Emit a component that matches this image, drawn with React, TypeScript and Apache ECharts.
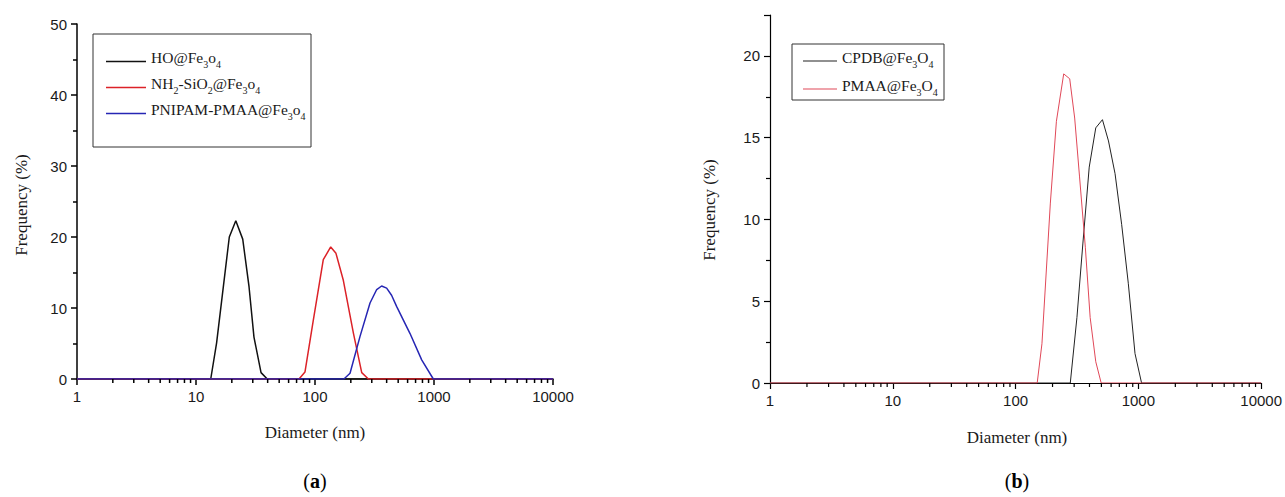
import { useEffect, useRef } from 'react';
import * as echarts from 'echarts';

// ---------- Data ----------
// Panel (a)
const hoDiam = [1, 13.3, 14.9, 19.05, 21.6, 24.7, 27.9, 30.7, 35.2, 39.7, 10000];
const hoFreq = [0, 0, 5.1, 20, 22.3, 19.7, 13, 5.9, 0.9, 0, 0];

const nhDiam = [1, 73.4, 82.4, 96.8, 117.4, 135.5, 150, 173, 210, 247, 281, 10000];
const nhFreq = [0, 0, 1.0, 8.3, 16.8, 18.6, 17.7, 13.9, 6.5, 0.9, 0, 0];

const pnDiam = [1, 175, 197, 239, 290, 330, 363, 400, 440, 486, 629, 788, 987, 10000];
const pnFreq = [0, 0, 0.8, 6, 10.7, 12.6, 13.1, 12.8, 11.8, 10.2, 6.4, 2.7, 0, 0];

// Panel (b)
const cpDiam = [1, 279, 316, 353, 398, 450, 510, 571, 646, 731, 828, 939, 1062, 10000];
const cpFreq = [0, 0, 4.0, 8.5, 13.2, 15.6, 16.1, 14.8, 12.8, 9.7, 6.1, 1.8, 0, 0];

const pmDiam = [1, 150, 164, 192, 215, 246.6, 276, 303, 332, 370, 405, 450, 498, 10000];
const pmFreq = [0, 0, 2.4, 11, 16, 18.9, 18.6, 16.2, 12.6, 8.3, 4.0, 1.3, 0, 0];

// Minor tick positions of the logarithmic diameter axis
const minorTickValues = [
  2, 3, 4, 5, 6, 7, 8, 9,
  20, 30, 40, 50, 60, 70, 80, 90,
  200, 300, 400, 500, 600, 700, 800, 900,
  2000, 3000, 4000, 5000, 6000, 7000, 8000, 9000,
];

const namesA = ['HO@Fe3o4', 'NH2-SiO2@Fe3o4', 'PNIPAM-PMAA@Fe3o4'];
const namesB = ['CPDB@Fe3O4', 'PMAA@Fe3O4'];

const legendRich: Record<string, string> = {
  'HO@Fe3o4': '{n|HO@Fe}{s|3}{n|o}{s|4}',
  'NH2-SiO2@Fe3o4': '{n|NH}{s|2}{n|-SiO}{s|2}{n|@Fe}{s|3}{n|o}{s|4}',
  'PNIPAM-PMAA@Fe3o4': '{n|PNIPAM-PMAA@Fe}{s|3}{n|o}{s|4}',
  'CPDB@Fe3O4': '{n|CPDB@Fe}{s|3}{n|O}{s|4}',
  'PMAA@Fe3O4': '{n|PMAA@Fe}{s|3}{n|O}{s|4}',
};

const zip = (xs: number[], ys: number[]) => xs.map((x, i) => [x, ys[i]]);

const SERIF = "'Liberation Serif', 'DejaVu Serif', serif";
const SANS = "'Liberation Sans', Arial, sans-serif";

export default function App() {
  const ref = useRef<HTMLDivElement>(null);

  useEffect(() => {
    if (!ref.current) return;
    const chart = echarts.init(ref.current, undefined, { renderer: 'svg' });

    const richStyles = {
      n: { fontFamily: SERIF, fontSize: 15.5, color: '#1a1a1a', lineHeight: 16, padding: [0, 0, 4, 0], verticalAlign: 'bottom' },
      s: { fontFamily: SERIF, fontSize: 10, color: '#1a1a1a', lineHeight: 12, verticalAlign: 'bottom' },
    };

    const xAxisBase = (gridIndex: number, lw: number) => ({
      type: 'log',
      logBase: 10,
      gridIndex,
      min: 1,
      max: 10000,
      axisLine: { show: true, onZero: false, lineStyle: { color: '#000', width: lw } },
      axisTick: { show: true, inside: false, length: 6, lineStyle: { color: '#000', width: lw } },
      minorTick: { show: false },
      splitLine: { show: false },
      axisLabel: {
        color: '#1a1a1a', fontFamily: SANS, fontSize: 15, margin: 10,
        formatter: (v: number) => String(Math.round(v)),
      },
    });

    const yAxisBase = (gridIndex: number, max: number, interval: number, lw: number) => ({
      type: 'value',
      gridIndex,
      min: 0,
      max,
      interval,
      axisLine: { show: true, lineStyle: { color: '#000', width: lw } },
      axisTick: { show: true, inside: false, length: 6, lineStyle: { color: '#000', width: lw } },
      minorTick: { show: true, splitNumber: 2, length: 4, lineStyle: { color: '#000', width: lw } },
      splitLine: { show: false },
      minorSplitLine: { show: false },
      axisLabel: { color: '#1a1a1a', fontFamily: SANS, fontSize: 15, margin: 10, showMaxLabel: max % interval === 0 },
    });

    const minorTickSeries = (idx: number, lw: number) => ({
      type: 'custom',
      xAxisIndex: idx,
      yAxisIndex: idx,
      silent: true,
      clip: false,
      z: 5,
      data: minorTickValues.map((v) => [v, 0]),
      renderItem: (_p: any, api: any) => {
        const pt = api.coord([api.value(0), 0]);
        return {
          type: 'line',
          shape: { x1: pt[0], y1: pt[1], x2: pt[0], y2: pt[1] + 4 },
          style: { stroke: '#000', lineWidth: lw },
        };
      },
    });

    const lineSeries = (name: string, xs: number[], ys: number[], idx: number, color: string, width: number) => ({
      type: 'line',
      name,
      xAxisIndex: idx,
      yAxisIndex: idx,
      data: zip(xs, ys),
      symbol: 'none',
      showSymbol: false,
      smooth: false,
      lineStyle: { color, width },
      itemStyle: { color },
      z: 3,
    });

    chart.setOption({
      animation: false,
      backgroundColor: '#ffffff',
      grid: [
        { left: 77, top: 24, width: 476, height: 355 },
        { left: 770, top: 15, width: 494, height: 368 },
      ],
      xAxis: [xAxisBase(0, 1.5), xAxisBase(1, 1.2)],
      yAxis: [yAxisBase(0, 50, 10, 1.5), yAxisBase(1, 22.5, 5, 1.2)],
      legend: [
        {
          data: namesA,
          orient: 'vertical',
          left: 106,
          top: 49.5,
          padding: 0,
          icon: 'rect',
          itemWidth: 40,
          itemHeight: 1.6,
          itemGap: 6,
          selectedMode: false,
          formatter: (n: string) => legendRich[n],
          textStyle: { rich: richStyles },
        },
        {
          data: namesB,
          orient: 'vertical',
          left: 803,
          top: 49,
          padding: 0,
          icon: 'rect',
          itemWidth: 34,
          itemHeight: 1,
          itemGap: 8,
          selectedMode: false,
          formatter: (n: string) => legendRich[n],
          textStyle: { rich: richStyles },
        },
      ],
      graphic: [
        { type: 'rect', shape: { x: 93, y: 34, width: 218, height: 113 }, style: { fill: 'none', stroke: '#333', lineWidth: 1 }, z: 1 },
        { type: 'rect', shape: { x: 792, y: 44, width: 152, height: 56 }, style: { fill: 'none', stroke: '#333', lineWidth: 1 }, z: 1 },
        {
          type: 'text', x: 21, y: 205, rotation: Math.PI / 2,
          style: { text: 'Frequency (%)', font: `17px ${SERIF}`, fill: '#1a1a1a', align: 'center', verticalAlign: 'middle' },
        },
        {
          type: 'text', x: 709, y: 210, rotation: Math.PI / 2,
          style: { text: 'Frequency (%)', font: `17px ${SERIF}`, fill: '#1a1a1a', align: 'center', verticalAlign: 'middle' },
        },
        {
          type: 'text', x: 315, y: 432,
          style: { text: 'Diameter (nm)', font: `17px ${SERIF}`, fill: '#1a1a1a', align: 'center', verticalAlign: 'middle' },
        },
        {
          type: 'text', x: 1017, y: 437,
          style: { text: 'Diameter (nm)', font: `17px ${SERIF}`, fill: '#1a1a1a', align: 'center', verticalAlign: 'middle' },
        },
        {
          type: 'text', x: 315, y: 481,
          style: {
            text: '{p|(}{b|a}{p|)}', align: 'center', verticalAlign: 'middle',
            rich: {
              p: { fontFamily: SERIF, fontSize: 20, fill: '#000' },
              b: { fontFamily: SERIF, fontSize: 20, fontWeight: 'bold', fill: '#000' },
            },
          },
        },
        {
          type: 'text', x: 1017, y: 481,
          style: {
            text: '{p|(}{b|b}{p|)}', align: 'center', verticalAlign: 'middle',
            rich: {
              p: { fontFamily: SERIF, fontSize: 20, fill: '#000' },
              b: { fontFamily: SERIF, fontSize: 20, fontWeight: 'bold', fill: '#000' },
            },
          },
        },
      ],
      series: [
        lineSeries(namesA[0], hoDiam, hoFreq, 0, '#111111', 1.5),
        lineSeries(namesA[1], nhDiam, nhFreq, 0, '#dc2228', 1.5),
        lineSeries(namesA[2], pnDiam, pnFreq, 0, '#2626b4', 1.5),
        lineSeries(namesB[0], cpDiam, cpFreq, 1, '#222222', 1),
        lineSeries(namesB[1], pmDiam, pmFreq, 1, '#e04858', 1),
        minorTickSeries(0, 1.5),
        minorTickSeries(1, 1.2),
      ],
    });

    return () => chart.dispose();
  }, []);

  return (
    <div
      ref={ref}
      style={{ position: 'absolute', left: 0, top: 0, width: 1285, height: 497, background: '#fff' }}
    />
  );
}
